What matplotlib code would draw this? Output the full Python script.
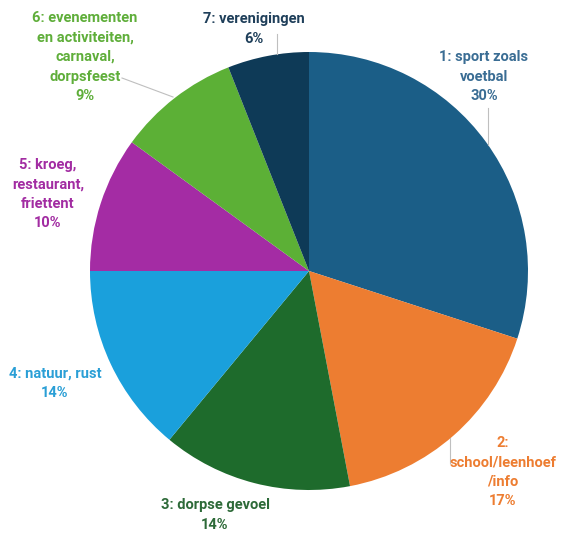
import matplotlib
matplotlib.use("Agg")
from matplotlib import pyplot as plt

labels = [
    "1: sport zoals\nvoetbal",
    "2:\nschool/leenhoef\n/info",
    "3: dorpse gevoel",
    "4: natuur, rust",
    "5: kroeg,\nrestaurant,\nfriettent",
    "6: evenementen\nen activiteiten,\ncarnaval,\ndorpsfeest",
    "7: verenigingen",
]
values = [30, 17, 14, 14, 10, 9, 6]
colors = ["#1b5e87", "#ed7d31", "#1e6b2c", "#1aa0dc", "#a42ca4", "#5cb036", "#0e3a57"]
text_colors = ["#3a6d94", "#ed7d31", "#2d6a38", "#2a9fd6", "#a22ca2", "#5fae3a", "#1f3f5a"]

# layout in pixels of the 561x533 canvas
W, H = 561, 533
CX, CY, R = 309, 271, 219
label_px = [(484, 77), (503, 472), (215, 515), (55, 383), (48, 194), (85, 57), (254, 29)]
leaders = {0: [(488, 108), (488, 145)], 1: [(450, 438), (450, 463)],
           5: [(122, 78), (173, 97)], 6: [(277, 34), (277, 54)]}


def to_data(p):
    return (p[0] - CX) / R, (CY - p[1]) / R


plt.rcParams["font.family"] = ["Roboto", "DejaVu Sans"]
fig = plt.figure(figsize=(W / 100, H / 100), dpi=100)
ax = fig.add_axes([0, 0, 1, 1])
ax.pie(values, colors=colors, startangle=90, counterclock=False, radius=1,
       wedgeprops=dict(linewidth=0))
ax.set_aspect("auto")
ax.set_xlim(-CX / R, (W - CX) / R)
ax.set_ylim(-(H - CY) / R, CY / R)
ax.axis("off")

for i, (lab, val) in enumerate(zip(labels, values)):
    x, y = to_data(label_px[i])
    ax.text(x, y, f"{lab}\n{val}%", ha="center", va="center", color=text_colors[i],
            fontsize=10.5, fontweight="bold", linespacing=1.5)

for i, pts in leaders.items():
    (x0, y0), (x1, y1) = to_data(pts[0]), to_data(pts[1])
    ax.plot([x0, x1], [y0, y1], color="#bfbfbf", linewidth=0.8)

fig.savefig("out.png", dpi=100)
